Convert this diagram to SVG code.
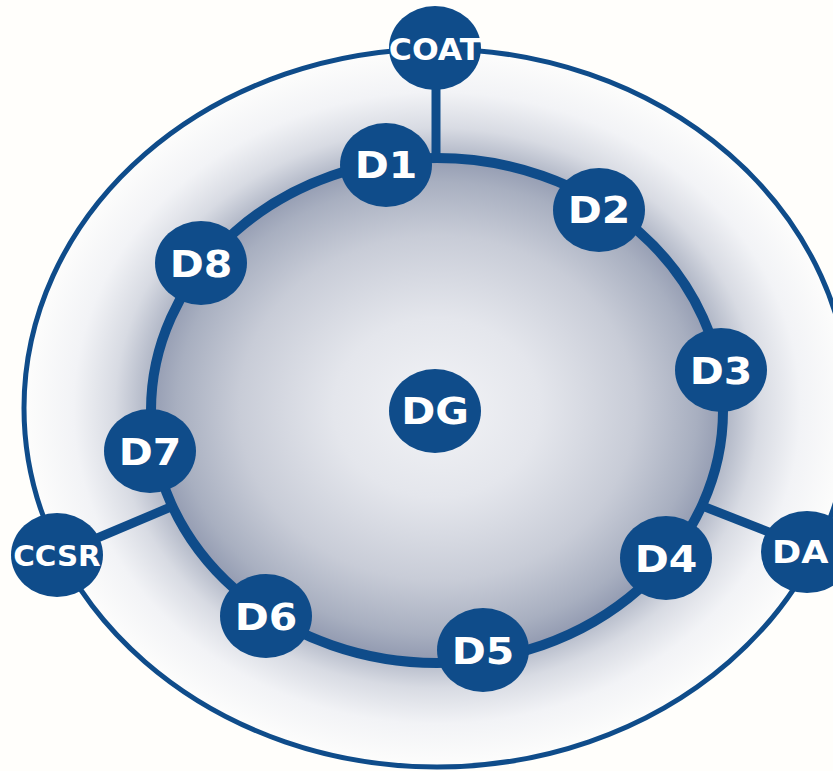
<svg xmlns="http://www.w3.org/2000/svg" width="833" height="771" viewBox="0 0 833 771">
  <defs>
    <radialGradient id="shade" cx="0.5" cy="0.5" r="0.5">
      <stop offset="0" stop-color="#f2f3f6"/>
      <stop offset="0.25" stop-color="#e4e6ec"/>
      <stop offset="0.48" stop-color="#c8ccd7"/>
      <stop offset="0.63" stop-color="#a8afc0"/>
      <stop offset="0.695" stop-color="#949cb2"/>
      <stop offset="0.705" stop-color="#b3b9c8"/>
      <stop offset="0.78" stop-color="#d8dbe3"/>
      <stop offset="0.88" stop-color="#f2f3f6"/>
      <stop offset="1" stop-color="#fdfdfc"/>
    </radialGradient>
    <style>
      .node { fill: #0f4c8a; }
      .lbl { fill: #ffffff; font-family: "DejaVu Sans", "Liberation Sans", sans-serif; font-weight: bold; text-anchor: middle; }
      .d { font-size: 38px; }
      .ring { fill: none; stroke: #0f4c8a; }
      .conn { stroke: #0f4c8a; stroke-width: 9; fill: none; }
    </style>
  </defs>

  <rect x="0" y="0" width="833" height="771" fill="#fffefb"/>

  <g id="rings">
    <ellipse cx="437" cy="408" rx="413" ry="359" fill="url(#shade)"/>
    <ellipse class="ring" cx="437" cy="408" rx="413" ry="359" stroke-width="5"/>
    <ellipse class="ring" cx="437" cy="410.5" rx="286" ry="252.5" stroke-width="10"/>
  </g>

  <g id="connectors">
    <line class="conn" x1="436" y1="80" x2="436" y2="160"/>
    <line class="conn" x1="57" y1="555" x2="173" y2="506"/>
    <line class="conn" x1="700" y1="505" x2="807" y2="547"/>
  </g>

  <g id="COAT">
    <ellipse class="node" cx="435" cy="48" rx="46" ry="42"/>
    <text class="lbl" transform="translate(435 60) scale(1.05 1)" font-size="30">COAT</text>
  </g>
  <g id="CCSR">
    <ellipse class="node" cx="57" cy="555" rx="46" ry="42"/>
    <text class="lbl" transform="translate(57 566) scale(1.05 1)" font-size="28">CCSR</text>
  </g>
  <g id="DA">
    <ellipse class="node" cx="807" cy="552" rx="46" ry="41"/>
    <text class="lbl" transform="translate(772 563) scale(1.1 1)" font-size="32" style="text-anchor:start">DA</text>
  </g>
  <g id="DG">
    <ellipse class="node" cx="435" cy="411" rx="46" ry="42"/>
    <text class="lbl d" transform="translate(435 424) scale(1.08 1)">DG</text>
  </g>
  <g id="D1">
    <ellipse class="node" cx="386" cy="165" rx="46" ry="42"/>
    <text class="lbl d" transform="translate(386 178) scale(1.08 1)">D1</text>
  </g>
  <g id="D2">
    <ellipse class="node" cx="599" cy="210" rx="46" ry="42"/>
    <text class="lbl d" transform="translate(599 223) scale(1.08 1)">D2</text>
  </g>
  <g id="D3">
    <ellipse class="node" cx="721" cy="370" rx="46" ry="42"/>
    <text class="lbl d" transform="translate(721 384) scale(1.08 1)">D3</text>
  </g>
  <g id="D4">
    <ellipse class="node" cx="666" cy="558" rx="46" ry="42"/>
    <text class="lbl d" transform="translate(666 572) scale(1.08 1)">D4</text>
  </g>
  <g id="D5">
    <ellipse class="node" cx="483" cy="650" rx="46" ry="42"/>
    <text class="lbl d" transform="translate(483 664) scale(1.08 1)">D5</text>
  </g>
  <g id="D6">
    <ellipse class="node" cx="266" cy="616" rx="46" ry="42"/>
    <text class="lbl d" transform="translate(266 630) scale(1.08 1)">D6</text>
  </g>
  <g id="D7">
    <ellipse class="node" cx="150" cy="451" rx="46" ry="42"/>
    <text class="lbl d" transform="translate(150 465) scale(1.08 1)">D7</text>
  </g>
  <g id="D8">
    <ellipse class="node" cx="201" cy="263" rx="46" ry="42"/>
    <text class="lbl d" transform="translate(201 277) scale(1.08 1)">D8</text>
  </g>
</svg>
